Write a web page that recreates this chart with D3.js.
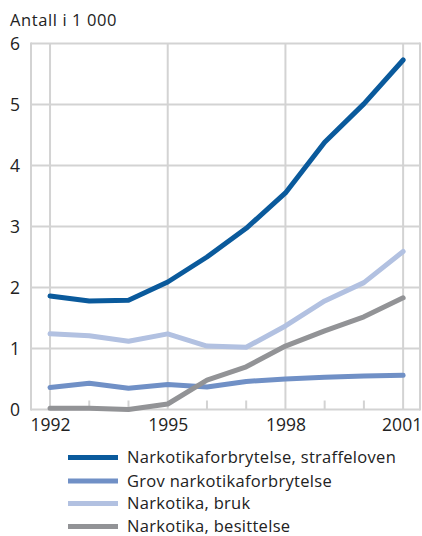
<!DOCTYPE html>
<html><head><meta charset="utf-8">
<script src="https://cdn.jsdelivr.net/npm/d3@7"></script>
<style>
html,body{margin:0;padding:0;background:#fff;}
text{font-family:"Open Sans",sans-serif;fill:#222;}
</style></head>
<body><svg id="c" width="422" height="536"></svg>
<script>
const years = [1992,1993,1994,1995,1996,1997,1998,1999,2000,2001];
const straffeloven = [1.86,1.78,1.79,2.09,2.50,2.97,3.55,4.38,5.01,5.73];
const grov = [0.36,0.43,0.35,0.41,0.37,0.46,0.50,0.53,0.55,0.56];
const bruk = [1.24,1.21,1.12,1.24,1.04,1.02,1.37,1.78,2.08,2.59];
const besittelse = [0.02,0.02,0.00,0.09,0.48,0.70,1.04,1.29,1.52,1.83];
const seriesNames = ["Narkotikaforbrytelse, straffeloven","Grov narkotikaforbrytelse","Narkotika, bruk","Narkotika, besittelse"];
const seriesColors = ["#0a5a9c","#7090c6","#b2c1e1","#929396"];
const yTicks = [0,1,2,3,4,5,6];
const xLabelYears = [1992,1995,1998,2001];
const yTitle = "Antall i 1 000";

const series = [straffeloven,grov,bruk,besittelse];
const svg = d3.select("#c");
const L=31,R=420,T=43.5,B=409.5;
const x = d3.scaleLinear().domain([1991.515,2001.43]).range([L,R]);
const y = d3.scaleLinear().domain([0,6]).range([B,T]);
const grid="#d3d3d3";

svg.append("g").selectAll("line").data(yTicks).join("line")
  .attr("x1",L).attr("x2",R).attr("y1",d=>y(d)).attr("y2",d=>y(d))
  .attr("stroke",grid).attr("stroke-width",2);
svg.append("g").selectAll("line").data(xLabelYears).join("line")
  .attr("x1",d=>x(d)).attr("x2",d=>x(d)).attr("y1",T).attr("y2",B)
  .attr("stroke",grid).attr("stroke-width",2);
[L,R].forEach(px=>svg.append("line").attr("x1",px).attr("x2",px).attr("y1",T-1).attr("y2",B+1)
  .attr("stroke",grid).attr("stroke-width",2));
svg.append("g").selectAll("line").data(years.filter(d=>!xLabelYears.includes(d))).join("line")
  .attr("x1",d=>x(d)).attr("x2",d=>x(d)).attr("y1",B).attr("y2",B-9)
  .attr("stroke",grid).attr("stroke-width",2);

const xAxis = svg.append("g").attr("transform",`translate(0,${B})`)
  .call(d3.axisBottom(x).tickValues(xLabelYears).tickFormat(d3.format("d")).tickSize(0).tickPadding(9));
xAxis.select(".domain").remove();
xAxis.selectAll("text").attr("font-size","17.5px").attr("font-family","Open Sans").attr("fill","#222")
  .attr("dx",d=>d===2001?"-1.5":"0");
const yAxis = svg.append("g").attr("transform",`translate(${L},0)`)
  .call(d3.axisLeft(y).tickValues(yTicks).tickFormat(d3.format("d")).tickSize(0).tickPadding(11));
yAxis.select(".domain").remove();
yAxis.selectAll("text").attr("font-size","17.5px").attr("font-family","Open Sans").attr("fill","#222");

svg.append("text").attr("x",10).attr("y",26).attr("font-size","16.5px").attr("letter-spacing","0.6px").text(yTitle);

const line = d3.line().x((d,i)=>x(years[i])).y(d=>y(d));
series.forEach((s,k)=>{
  svg.append("path").attr("d",line(s)).attr("fill","none")
    .attr("stroke",seriesColors[k]).attr("stroke-width",5)
    .attr("stroke-linejoin","round").attr("stroke-linecap","round");
});

const lg = svg.append("g");
const rowsY=[457.5,481,503.5,526.5];
seriesNames.forEach((n,k)=>{
  lg.append("line").attr("x1",68).attr("x2",118).attr("y1",rowsY[k]).attr("y2",rowsY[k])
    .attr("stroke",seriesColors[k]).attr("stroke-width",5);
  lg.append("text").attr("x",127).attr("y",rowsY[k]+5.5).attr("font-size","16.5px").attr("letter-spacing","0.3px").text(n);
});
</script></body></html>
